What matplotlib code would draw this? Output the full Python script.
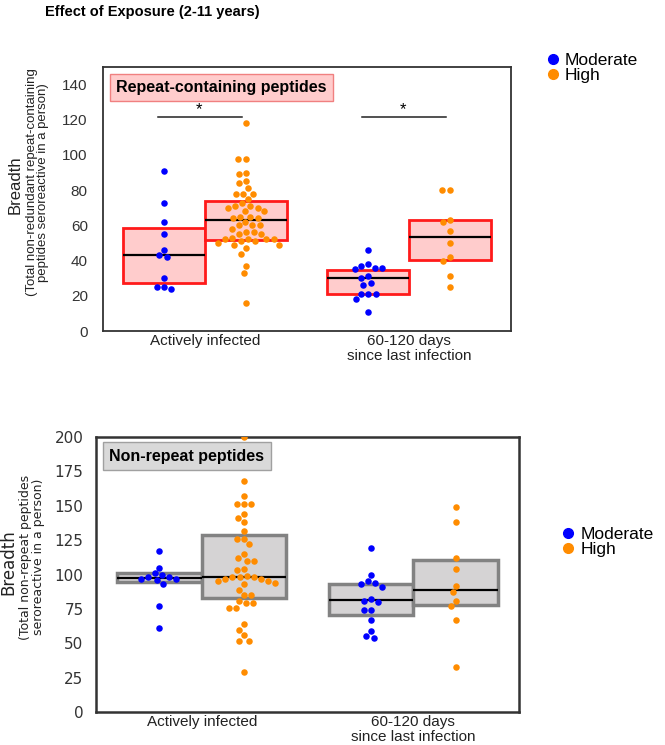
import numpy as np
import matplotlib
matplotlib.use("Agg")
import matplotlib.pyplot as plt
from matplotlib.lines import Line2D

# ---------------- data ----------------
groups = ["Actively infected", "60-120 days\nsince last infection"]
exposure = ["Moderate", "High"]
colors = {"Moderate": "#0000ff", "High": "#ff8c00"}

# Repeat-containing peptides (top)
rep_ai_mod = [91, 73, 62, 55, 46, 43, 42, 30, 25, 24, 25]
rep_ai_high = [118, 98, 98, 90, 89, 85, 84, 81, 78, 78, 78, 75, 73, 71, 71, 70, 70, 68,
               68, 65, 65, 64, 64, 62, 60, 60, 60, 58, 56, 56, 55, 55, 53, 52, 52, 52,
               52, 51, 51, 50, 49, 49, 47, 44, 37, 33, 16]
rep_pi_mod = [46, 38, 37, 36, 36, 35, 31, 30, 27, 26, 21, 21, 21, 18, 11]
rep_pi_high = [80, 80, 63, 62, 57, 50, 42, 40, 31, 25]
# box stats (q1, median, q3)
rep_q1 = [27.3, 51.7, 21.0, 40.3]
rep_med = [43.2, 63.1, 30.1, 53.4]
rep_q3 = [58.5, 73.9, 34.7, 63.1]

# Non-repeat peptides (bottom)
non_ai_mod = [117, 105, 101, 100, 98, 98, 97, 97, 96, 93, 77, 61]
non_ai_high = [200, 168, 157, 151, 151, 151, 144, 141, 138, 132, 126, 126, 122, 115, 112,
               110, 110, 104, 103, 99, 98, 98, 98, 97, 97, 95, 95, 94, 93, 89, 85, 85,
               81, 79, 79, 76, 76, 64, 60, 56, 52, 52, 29]
non_pi_mod = [119, 100, 95, 94, 93, 91, 82, 81, 80, 74, 74, 67, 59, 55, 54]
non_pi_high = [149, 138, 112, 104, 92, 87, 81, 77, 67, 33]
non_q1 = [94.5, 82.9, 70.5, 77.8]
non_med = [97.5, 98.2, 81.5, 88.7]
non_q3 = [101.0, 128.7, 93.1, 110.5]

yticks_top = [0, 20, 40, 60, 80, 100, 120, 140]
yticks_bot = [0, 25, 50, 75, 100, 125, 150, 175, 200]

ARIAL = "Liberation Sans"
DPI = 100

fig = plt.figure(figsize=(6.65, 7.45), dpi=DPI)
ax1 = fig.add_axes([0.155, 0.5557, 0.6135, 0.3544])
ax2 = fig.add_axes([0.1444, 0.0443, 0.636, 0.369])


def swarm_x(ax, center, values, d_px):
    """beeswarm: returns x data positions for values around center."""
    vals = np.asarray(values, dtype=float)
    pts = ax.transData.transform(np.column_stack([np.full(len(vals), center), vals]))
    ypix = pts[:, 1]
    x0 = pts[0, 0]
    order = np.argsort(-ypix)
    placed = []
    xoff = np.zeros(len(vals))
    for i in order:
        y = ypix[i]
        cands = [0.0]
        for (px, py) in placed:
            dy = abs(py - y)
            if dy < d_px:
                dx = np.sqrt(d_px ** 2 - dy ** 2)
                cands += [px + dx, px - dx]
        cands = sorted(cands, key=lambda c: (abs(c), c))
        for c in cands:
            ok = True
            for (px, py) in placed:
                if (px - c) ** 2 + (py - y) ** 2 < d_px ** 2 - 1e-6:
                    ok = False
                    break
            if ok:
                break
        placed.append((c, y))
        xoff[i] = c
    xs = ax.transData.inverted().transform(np.column_stack([x0 + xoff, vals]))[:, 0]
    return xs


def draw_panel(ax, series, q1, med, q3, face, edge, lw, ylim, yticks, tickfont, spine_lw, tickpad):
    positions = [-0.2, 0.2, 0.8, 1.2]
    ax.set_xlim(-0.5, 1.5)
    ax.set_ylim(*ylim)
    stats = []
    for a, m, b in zip(q1, med, q3):
        stats.append(dict(q1=a, med=m, q3=b, whislo=a, whishi=b, fliers=[]))
    ax.bxp(stats, positions=positions, widths=0.4, patch_artist=True,
           showfliers=False, showcaps=False,
           boxprops=dict(facecolor=face, edgecolor=edge, linewidth=lw, zorder=1),
           whiskerprops=dict(linewidth=0),
           medianprops=dict(color="black", linewidth=1.6, zorder=2),
           manage_ticks=False)
    cols = ["Moderate", "High", "Moderate", "High"]
    for pos, vals, c in zip(positions, series, cols):
        xs = swarm_x(ax, pos, vals, 7.4)
        ax.scatter(xs, vals, s=22, color=colors[c], linewidths=0, zorder=3)
    ax.set_xlim(-0.5, 1.5)
    ax.set_ylim(*ylim)
    ax.set_yticks(yticks)
    ax.set_xticks([0, 1])
    ax.set_xticklabels(groups, fontsize=11, family=ARIAL, color="#222222", linespacing=1.1)
    for lab in ax.get_yticklabels():
        lab.set_family(tickfont)
        lab.set_fontsize(11)
        lab.set_color("#333333")
    ax.tick_params(axis="y", length=0, pad=tickpad)
    ax.tick_params(axis="x", length=0, pad=2)
    for s in ax.spines.values():
        s.set_color("#333333")
        s.set_linewidth(spine_lw)


draw_panel(ax1, [rep_ai_mod, rep_ai_high, rep_pi_mod, rep_pi_high], rep_q1, rep_med, rep_q3,
           "#ffcccc", "#ff1a1a", 2.0, (0, 150), yticks_top, ARIAL, 1.3, 11)
draw_panel(ax2, [non_ai_mod, non_ai_high, non_pi_mod, non_pi_high], non_q1, non_med, non_q3,
           "#d5d3d4", "#828282", 2.5, (0, 200), yticks_bot, "DejaVu Sans", 1.8, 9)

# significance bars (top panel)
for c in [0, 1]:
    ax1.plot([c - 0.23, c + 0.18], [121.5, 121.5], color="#222222", lw=1.1)
    ax1.text(c - 0.03, 121.5, "*", ha="center", va="bottom", fontsize=12, family=ARIAL)

# panel labels
ax1.text(0.032, 0.952, "Repeat-containing peptides", transform=ax1.transAxes, ha="left", va="top",
         fontsize=11.5, fontweight="bold", family=ARIAL,
         bbox=dict(boxstyle="square,pad=0.38", facecolor="#ffcccc", edgecolor="#f08080", lw=1))
ax2.text(0.031, 0.958, "Non-repeat peptides", transform=ax2.transAxes, ha="left", va="top",
         fontsize=11.5, fontweight="bold", family=ARIAL,
         bbox=dict(boxstyle="square,pad=0.4", facecolor="#d9d9d9", edgecolor="#a0a0a0", lw=1))

# y labels
fig.text(0.022, 0.752, "Breadth", rotation=90, ha="center", va="center", fontsize=12, family=ARIAL, color="#222222")
fig.text(0.057, 0.755, "(Total non-redundant repeat-containing\npeptides seroreactive in a person)",
         rotation=90, ha="center", va="center", fontsize=9.5, family=ARIAL, color="#222222", linespacing=0.88)
fig.text(0.013, 0.245, "Breadth", rotation=90, ha="center", va="center", fontsize=12, family="DejaVu Sans", color="#222222")
fig.text(0.048, 0.252, "(Total non-repeat peptides\nseroreactive in a person)",
         rotation=90, ha="center", va="center", fontsize=9, family="DejaVu Sans", color="#222222", linespacing=0.92)

# title
fig.text(0.068, 0.984, "Effect of Exposure (2-11 years)", ha="left", va="center",
         fontsize=10.5, fontweight="bold", family=ARIAL)

# legends
handles = [Line2D([], [], marker="o", ls="", color=colors[e], markersize=7) for e in exposure]
fig.legend(handles, exposure, loc="upper left", bbox_to_anchor=(0.805, 0.938), frameon=False,
           prop=dict(family=ARIAL, size=12.5), handletextpad=0.1, labelspacing=0.0,
           borderaxespad=0, handlelength=1.2)
fig.legend(handles, exposure, loc="upper left", bbox_to_anchor=(0.828, 0.302), frameon=False,
           prop=dict(family=ARIAL, size=12.5), handletextpad=0.1, labelspacing=0.0,
           borderaxespad=0, handlelength=1.2)

fig.savefig("out.png", dpi=DPI)
